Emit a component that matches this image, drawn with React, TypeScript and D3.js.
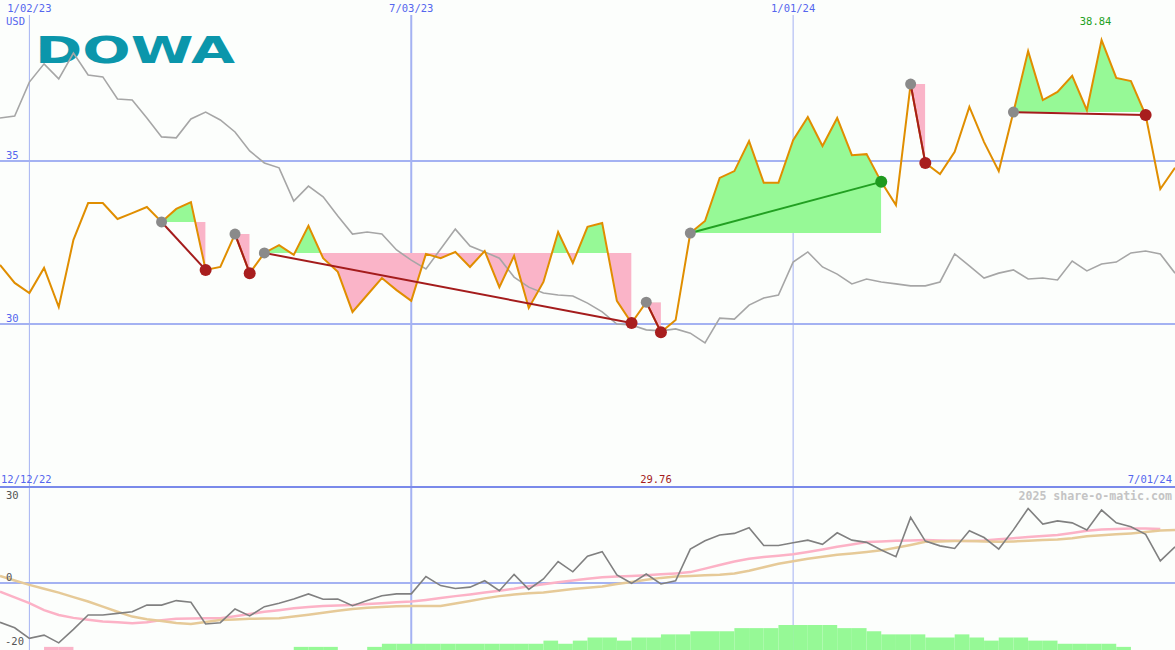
import React from "react";
import * as d3 from "d3";

const W = 1175;
const H = 650;

// weekly categories
const weekStart = new Date(2022, 11, 19);
const weekEnd = new Date(2024, 6, 1);
const weeks = d3.timeMonday.range(weekStart, d3.timeDay.offset(weekEnd, 1));

// weekly close (USD)
const price = [31.81, 31.26, 30.95, 31.72, 30.52, 32.58, 33.71, 33.71, 33.22, 33.40,
  33.59, 33.13, 33.53, 33.74, 31.66, 31.75, 32.76, 31.56, 32.18, 32.42,
  32.12, 33.01, 32.02, 31.60, 30.37, 30.89, 31.41, 31.04, 30.71, 32.15,
  32.02, 32.21, 31.75, 32.24, 31.13, 32.09, 30.49, 31.29, 32.82, 31.87,
  32.98, 33.10, 30.71, 30.03, 30.67, 29.75, 30.12, 32.79, 33.16, 34.48,
  34.69, 35.61, 34.33, 34.33, 35.64, 36.35, 35.46, 36.32, 35.18, 35.21,
  34.36, 33.65, 37.36, 34.94, 34.60, 35.28, 36.66, 35.58, 34.69, 36.50,
  38.37, 36.87, 37.12, 37.61, 36.56, 38.71, 37.55, 37.45, 36.41, 34.14, 34.79];

// comparison index (rebased)
const compare = [36.32, 36.38, 37.42, 37.98, 37.52, 38.31, 37.64, 37.58, 36.90, 36.87,
  36.32, 35.74, 35.71, 36.29, 36.50, 36.26, 35.89, 35.31, 34.94, 34.79,
  33.77, 34.23, 33.90, 33.31, 32.76, 32.82, 32.76, 32.27, 31.96, 31.69,
  32.30, 32.91, 32.39, 32.21, 32.02, 31.44, 31.13, 30.95, 30.89, 30.86,
  30.64, 30.37, 30.00, 29.97, 29.82, 29.79, 29.85, 29.72, 29.42, 30.18,
  30.15, 30.58, 30.80, 30.89, 31.90, 32.21, 31.75, 31.53, 31.23, 31.38,
  31.29, 31.23, 31.17, 31.17, 31.29, 32.15, 31.78, 31.41, 31.56, 31.66,
  31.38, 31.41, 31.35, 31.93, 31.63, 31.84, 31.90, 32.18, 32.24, 32.15, 31.56];

// lower panel
const momentum = [-12.3, -14.0, -17.3, -16.3, -18.7, -14.5, -10.0, -10.0, -9.5, -9.0,
  -6.9, -6.9, -5.5, -6.0, -12.8, -12.4, -8.1, -10.3, -7.4, -6.3,
  -5.0, -3.4, -5.1, -5.0, -7.1, -5.5, -4.0, -3.4, -3.4, 2.0,
  -0.8, -1.7, -1.3, 0.7, -2.4, 2.7, -2.0, 1.25, 6.7, 3.5,
  8.4, 9.8, 2.5, -0.1, 2.8, -0.3, 0.7, 10.6, 13.2, 15.0,
  15.5, 17.3, 11.7, 11.7, 12.6, 13.4, 12.1, 15.7, 13.4, 12.7,
  10.3, 8.2, 20.5, 13.1, 11.6, 10.8, 16.3, 14.2, 10.6, 16.6,
  23.3, 18.4, 19.4, 18.8, 16.6, 22.8, 18.8, 17.6, 15.2, 6.9, 11.3];

const avgFast = [-2.7, -4.5, -6.3, -8.5, -10.0, -10.9, -11.5, -12.0, -12.3, -12.6,
  -12.3, -11.6, -11.2, -11.1, -11.0, -11.0, -10.4, -9.7, -9.0, -8.5,
  -7.9, -7.5, -7.2, -7.0, -6.9, -6.6, -6.3, -6.0, -5.8, -5.3,
  -4.7, -4.1, -3.6, -3.0, -2.4, -1.8, -1.0, -0.4, 0.2, 0.8,
  1.3, 1.8, 2.0, 2.2, 2.4, 2.7, 3.0, 3.4, 4.5, 5.6,
  6.7, 7.6, 8.1, 8.5, 9.0, 9.7, 10.5, 11.3, 12.0, 12.8,
  13.0, 13.2, 13.3, 13.4, 13.3, 13.2, 13.1, 13.3, 13.7, 14.0,
  14.4, 14.7, 15.0, 15.6, 16.3, 16.7, 16.9, 17.0, 17.0, 16.9];

const avgSlow = [2.2, 0.8, -0.6, -1.8, -3.0, -4.4, -5.8, -7.4, -9.0, -10.5,
  -11.3, -11.9, -12.5, -12.8, -12.2, -11.6, -11.4, -11.2, -11.1, -11.0,
  -10.5, -9.9, -9.3, -8.7, -8.1, -7.7, -7.5, -7.3, -7.2, -7.2,
  -7.2, -6.4, -5.6, -4.8, -4.1, -3.6, -3.2, -3.0, -2.4, -1.9,
  -1.5, -1.1, -0.3, 0.3, 1.0, 1.6, 2.0, 2.2, 2.4, 2.6,
  3.0, 3.8, 4.9, 6.0, 6.8, 7.6, 8.2, 8.8, 9.2, 9.7,
  10.2, 11.0, 11.9, 12.9, 13.0, 13.1, 13.1, 13.0, 12.9, 13.0,
  13.2, 13.4, 13.6, 14.0, 14.6, 14.9, 15.2, 15.5, 15.9, 16.4, 16.6];

const histogram = [0, 0, 0, -1, -1, 0, 0, 0, 0, 0,
  0, 0, 0, 0, 0, 0, 0, 0, 0, 0,
  1, 1, 1, 0, 0, 1, 2, 2, 2, 2,
  2, 2, 2, 2, 2, 2, 2, 3, 2, 3,
  4, 4, 3, 4, 4, 5, 5, 6, 6, 6,
  7, 7, 7, 8, 8, 8, 8, 7, 7, 6,
  5, 5, 5, 4, 4, 5, 4, 3, 4, 4,
  3, 3, 2, 2, 2, 2, 1, 0, 0, 0, 0];

// trend annotations
const trendStart = [11, 16, 18, 44, 47, 62, 69];
const trendEnd = [14, 17, 43, 45, 60, 63, 78];
const trendUp = [false, false, false, false, true, false, false];

// ticks and labels
const topTickDates = [new Date(2023, 0, 2), new Date(2023, 6, 3), new Date(2024, 0, 1)];
const topTickLabels = ["1/02/23", "7/03/23", "1/01/24"];
const thickTick = [false, true, false];
const priceTicks = [35, 30];
const momTicks = [30, 0, -20];
const highIndex = 75;
const highLabel = "38.84";
const lowIndex = 45;
const lowLabel = "29.76";
const leftDateLabel = "12/12/22";
const rightDateLabel = "7/01/24";

const BLUE = "#5566ee";
const GRID = "#a4b2f2";
const MONO = "'DejaVu Sans Mono', monospace";

export default function App() {
  const x = d3.scaleTime().domain([weekStart, weekEnd]).range([0, W]);
  const y = d3.scaleLinear().domain([30, 35]).range([324, 161]);
  const ym = d3.scaleLinear().domain([-20, 30]).range([647, 487]);
  const yb = d3.scaleLinear().domain([0, 8]).range([650, 625]);
  const xi = (i: number) => x(weeks[i]);

  const priceLine = d3.line<number>().x((_, i) => xi(i)).y((v) => y(v));
  const momLine = d3.line<number>().x((_, i) => xi(i)).y((v) => ym(v));

  const topBottom = 487;

  return (
    <svg width={W} height={H} style={{ position: "absolute", left: 0, top: 0, display: "block", background: "#fcfefc" }}>
      <rect x={0} y={0} width={W} height={H} fill="#fcfefc" />
      <defs>
        {trendStart.map((s, k) => {
          const x0 = xi(s);
          const x1 = xi(trendEnd[k]);
          const lv = y(price[s]);
          return (
            <g key={k}>
              <clipPath id={`above${k}`}>
                <rect x={x0} y={0} width={x1 - x0} height={lv} />
              </clipPath>
              <clipPath id={`below${k}`}>
                <rect x={x0} y={lv} width={x1 - x0} height={topBottom - lv} />
              </clipPath>
            </g>
          );
        })}
      </defs>

      {/* grid top */}
      {priceTicks.map((t) => (
        <line key={t} x1={0} x2={W} y1={y(t)} y2={y(t)} stroke={GRID} strokeWidth={2} />
      ))}
      {topTickDates.map((d, k) => (
        <line key={k} x1={x(d)} x2={x(d)} y1={15} y2={H} stroke={GRID} strokeWidth={thickTick[k] ? 2 : 1} />
      ))}
      {/* lower grid */}
      <line x1={0} x2={W} y1={ym(0)} y2={ym(0)} stroke={GRID} strokeWidth={2} />
      <line x1={0} x2={W} y1={topBottom} y2={topBottom} stroke="#7a8aea" strokeWidth={2} />

      {/* logo */}
      <text x={35} y={63} fontFamily="'DejaVu Sans', sans-serif" fontWeight="bold" fontSize={38}
        fill="#0b96ab" textLength={200} lengthAdjust="spacingAndGlyphs">DOWA</text>

      {/* trend fills */}
      {trendStart.map((s, k) => {
        const idx = d3.range(s, trendEnd[k] + 1);
        const lv = y(price[s]);
        const area = d3.area<number>().x((i) => xi(i)).y0(lv).y1((i) => y(price[i]));
        const d = area(idx) || "";
        return (
          <g key={k}>
            <path d={d} fill="#96f996" clipPath={`url(#above${k})`} />
            <path d={d} fill="#fab4c8" clipPath={`url(#below${k})`} />
          </g>
        );
      })}

      {/* comparison line */}
      <path d={priceLine(compare) || ""} fill="none" stroke="#a6a6a6" strokeWidth={1.6} />
      {/* price line */}
      <path d={priceLine(price) || ""} fill="none" stroke="#e08e00" strokeWidth={2} strokeLinejoin="miter" />

      {/* trend lines and dots */}
      {trendStart.map((s, k) => {
        const e = trendEnd[k];
        const col = trendUp[k] ? "#22a022" : "#a41c1c";
        return (
          <g key={k}>
            <line x1={xi(s)} y1={y(price[s])} x2={xi(e)} y2={y(price[e])} stroke={col} strokeWidth={2} />
            <circle cx={xi(s)} cy={y(price[s])} r={5.5} fill="#8a8a8a" />
            <circle cx={xi(e)} cy={y(price[e])} r={6} fill={trendUp[k] ? "#1f9a1f" : "#a81e1e"} />
          </g>
        );
      })}

      {/* lower panel bars */}
      {histogram.map((v, i) => {
        if (v === 0 || i >= weeks.length - 1) return null;
        const x0 = xi(i);
        const x1 = xi(i + 1);
        return (
          <rect key={i} x={x0} y={yb(Math.abs(v))} width={x1 - x0} height={650 - yb(Math.abs(v))}
            fill={v > 0 ? "#96f996" : "#fab4c8"} />
        );
      })}
      <path d={momLine(avgFast) || ""} fill="none" stroke="#fcb2c6" strokeWidth={2.5} />
      <path d={momLine(avgSlow) || ""} fill="none" stroke="#e6ca98" strokeWidth={2.5} />
      <path d={momLine(momentum) || ""} fill="none" stroke="#808080" strokeWidth={1.6} />

      {/* texts */}
      <g fontFamily={MONO} fontSize={10.5}>
        {topTickDates.map((d, k) => (
          <text key={k} x={x(d)} y={12} textAnchor="middle" fill={BLUE}>{topTickLabels[k]}</text>
        ))}
        <text x={6} y={25} fill={BLUE}>USD</text>
        {priceTicks.map((t) => (
          <text key={t} x={6} y={y(t) - 2} fill={BLUE}>{t}</text>
        ))}
        <text x={xi(highIndex) - 6} y={25} textAnchor="middle" fill="#22a022">{highLabel}</text>
        <text x={xi(lowIndex) - 5} y={483} textAnchor="middle" fill="#a41c1c">{lowLabel}</text>
        <text x={1} y={483} fill={BLUE}>{leftDateLabel}</text>
        <text x={1172} y={483} textAnchor="end" fill={BLUE}>{rightDateLabel}</text>
        {momTicks.map((t) => (
          <text key={t} x={t < 0 ? 5 : 6} y={Math.max(ym(t) - 2, topBottom + 12)} fill="#555">{t}</text>
        ))}
        <text x={1172} y={500} textAnchor="end" fill="#c4c4c4" fontSize={11.6} fontWeight="bold">2025 share-o-matic.com</text>
      </g>
    </svg>
  );
}
